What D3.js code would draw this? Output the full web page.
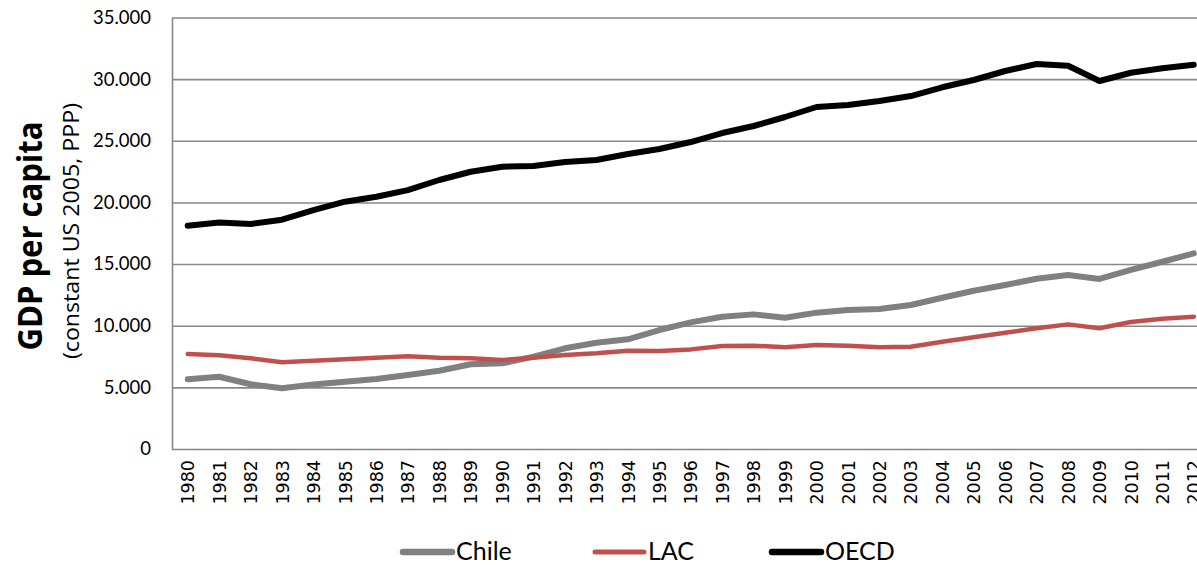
<!DOCTYPE html>
<html>
<head>
<meta charset="utf-8">
<script src="https://cdn.jsdelivr.net/npm/d3@7"></script>
<style>
  html, body { margin: 0; padding: 0; background: #fff; }
  svg { display: block; }
</style>
</head>
<body>
<svg id="chart" width="1197" height="565"></svg>
<script>
const years = [1980,1981,1982,1983,1984,1985,1986,1987,1988,1989,1990,1991,1992,1993,1994,1995,1996,1997,1998,1999,2000,2001,2002,2003,2004,2005,2006,2007,2008,2009,2010,2011,2012];
const chile = [5650,5860,5250,4920,5240,5460,5680,6000,6350,6870,6950,7490,8170,8620,8900,9650,10270,10730,10920,10650,11060,11270,11350,11680,12270,12840,13300,13810,14110,13790,14520,15190,15870];
const lac   = [7700,7600,7360,7030,7160,7280,7400,7520,7400,7360,7220,7400,7620,7760,7970,7950,8080,8350,8380,8250,8430,8380,8250,8300,8700,9060,9430,9790,10110,9790,10300,10570,10730];
const oecd  = [18110,18380,18250,18600,19380,20060,20460,21000,21820,22490,22900,22950,23280,23440,23930,24330,24900,25630,26200,26930,27740,27900,28230,28630,29340,29930,30660,31230,31090,29850,30520,30880,31170];
const seriesNames = ["Chile","LAC","OECD"];
const seriesColors = ["#808080","#C0504D","#000000"];
const seriesWidths = [6,4.5,6];
const yTicks = [0,5000,10000,15000,20000,25000,30000,35000];

(function () {
const svg = d3.select("#chart");
const mLeft = 172, mTop = 17.5, mBottom = 449;
const band = 31.44;
const mRight = mLeft + band * years.length;

const x = d3.scalePoint().domain(years).range([mLeft, mRight]).padding(0.5);
const y = d3.scaleLinear().domain([0, 35000]).range([mBottom, mTop]);

const loc = d3.formatLocale({decimal: ",", thousands: ".", grouping: [3], currency: ["", ""]});
const fmt = loc.format(",d");

// grid
const gridG = svg.append("g").attr("transform", `translate(${mLeft},0)`)
  .call(d3.axisLeft(y).tickValues(yTicks).tickSize(-(mRight - mLeft)).tickFormat(""));
gridG.select(".domain").remove();
gridG.selectAll(".tick line").attr("stroke", "#878787").attr("stroke-width", 1.6);

// y axis labels
const yAx = svg.append("g").attr("transform", `translate(${mLeft},0)`)
  .call(d3.axisLeft(y).tickValues(yTicks).tickSize(0).tickPadding(21).tickFormat(fmt));
yAx.select(".domain").attr("stroke", "#878787").attr("stroke-width", 1.6);
yAx.selectAll("text").attr("font-family", "Lato, 'Open Sans', sans-serif").attr("font-size", 18.5).attr("fill", "#000");

// x axis
const xAx = svg.append("g").attr("transform", `translate(0,${mBottom})`)
  .call(d3.axisBottom(x).tickSize(0).tickFormat(d => String(d)));
xAx.select(".domain").remove();
xAx.selectAll("text")
  .attr("font-family", "'DejaVu Sans', sans-serif").attr("font-size", 17.5).attr("fill", "#000")
  .attr("text-anchor", "end")
  .attr("transform", "rotate(-90)")
  .attr("x", -11).attr("y", 0).attr("dy", "0.35em");

// lines
const allSeries = [chile, lac, oecd];
const lineGen = d3.line().x((d, i) => x(years[i])).y(d => y(d));
allSeries.forEach((s, k) => {
  svg.append("path").datum(s)
    .attr("d", lineGen)
    .attr("fill", "none")
    .attr("stroke", seriesColors[k])
    .attr("stroke-width", seriesWidths[k])
    .attr("stroke-linejoin", "round")
    .attr("stroke-linecap", "round");
});

// axis titles
svg.append("text")
  .attr("transform", "translate(42,236) rotate(-90)")
  .attr("text-anchor", "middle")
  .attr("font-family", "'Open Sans', Lato, sans-serif").attr("font-weight", "bold")
  .attr("font-size", 34).attr("fill", "#000")
  .attr("textLength", 229).attr("lengthAdjust", "spacingAndGlyphs")
  .text("GDP per capita");
svg.append("text")
  .attr("transform", "translate(79,231) rotate(-90)")
  .attr("text-anchor", "middle")
  .attr("font-family", "'Open Sans', Lato, sans-serif")
  .attr("font-size", 21).attr("fill", "#000")
  .attr("textLength", 256).attr("lengthAdjust", "spacingAndGlyphs")
  .text("(constant US 2005, PPP)");

// legend
const legX = [403, 595, 772];
const legend = svg.append("g");
seriesNames.forEach((name, k) => {
  legend.append("line")
    .attr("x1", legX[k]).attr("x2", legX[k] + 49)
    .attr("y1", 552).attr("y2", 552)
    .attr("stroke", seriesColors[k]).attr("stroke-width", k === 1 ? 5 : 6.5)
    .attr("stroke-linecap", "round");
  legend.append("text")
    .attr("x", legX[k] + 53).attr("y", 560)
    .attr("font-family", "Lato, 'Open Sans', sans-serif")
    .attr("font-size", 25).attr("fill", "#000")
    .text(name);
});
})();
</script>
</body>
</html>
